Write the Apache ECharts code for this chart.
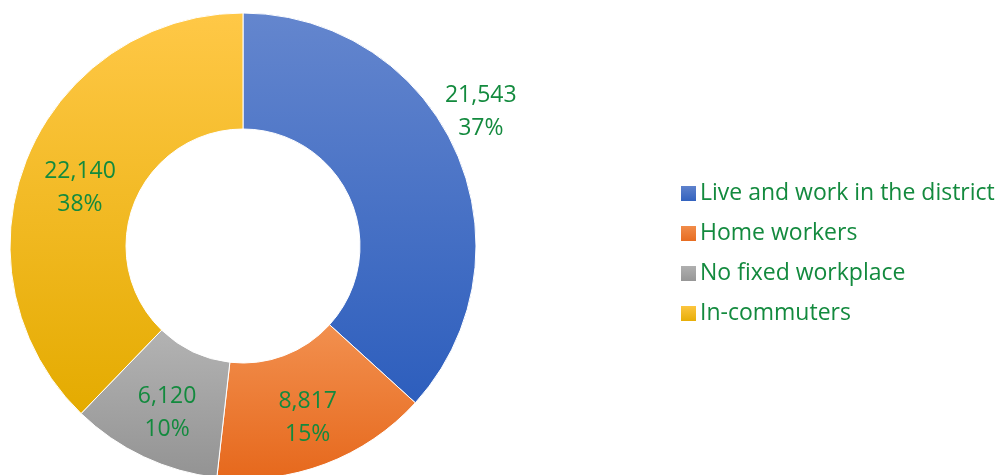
<!DOCTYPE html>
<html>
<head>
<meta charset="utf-8">
<script src="https://cdn.jsdelivr.net/npm/echarts@6/dist/echarts.min.js"></script>
<style>
  html, body { margin: 0; padding: 0; background: #fff; }
  #chart { width: 1005px; height: 475px; }
</style>
</head>
<body>
<div id="chart"></div>
<script>
const categories = ['Live and work in the district', 'Home workers', 'No fixed workplace', 'In-commuters']
const values = [21543, 8817, 6120, 22140]
const percents = ['37%', '15%', '10%', '38%']
// top / bottom shades of each slice gradient
const topColors = ['#6486CE', '#F2904F', '#B3B3B3', '#FFC847']
const bottomColors = ['#2D5EBD', '#E6681C', '#939393', '#E4AB00']

const green = '#138A3E'
const font = '"Open Sans", sans-serif'

// nudges so labels sit where Excel put them
const labelShift = [[75, -62], [2, 5], [0, 6], [2, 9]]

function grad(i) {
  return new echarts.graphic.LinearGradient(0, 0, 0, 1, [
    { offset: 0, color: topColors[i] },
    { offset: 1, color: bottomColors[i] },
  ])
}

const chart = echarts.init(document.getElementById('chart'))
chart.setOption({
  animation: false,
  legend: {
    orient: 'vertical',
    left: 674,
    top: 177,
    itemWidth: 17,
    itemHeight: 17,
    itemGap: 17,
    icon: 'rect',
    textStyle: { color: green, fontSize: 23, fontFamily: font, padding: [0, 0, 0, -2] },
    data: categories,
  },
  series: [
    {
      type: 'pie',
      center: [243, 246],
      radius: [117, 233],
      startAngle: 90,
      clockwise: true,
      itemStyle: { borderColor: '#fff', borderWidth: 1 },
      label: {
        show: true,
        position: 'inside',
        color: green,
        fontSize: 23,
        fontFamily: font,
        lineHeight: 33,
        formatter: p => p.value.toLocaleString('en-US') + '\n' + percents[p.dataIndex],
      },
      labelLayout: p => ({ dx: labelShift[p.dataIndex][0], dy: labelShift[p.dataIndex][1] }),
      emphasis: { disabled: true },
      data: categories.map((name, i) => ({
        name,
        value: values[i],
        itemStyle: { color: grad(i) },
      })),
    },
  ],
})
</script>
</body>
</html>
